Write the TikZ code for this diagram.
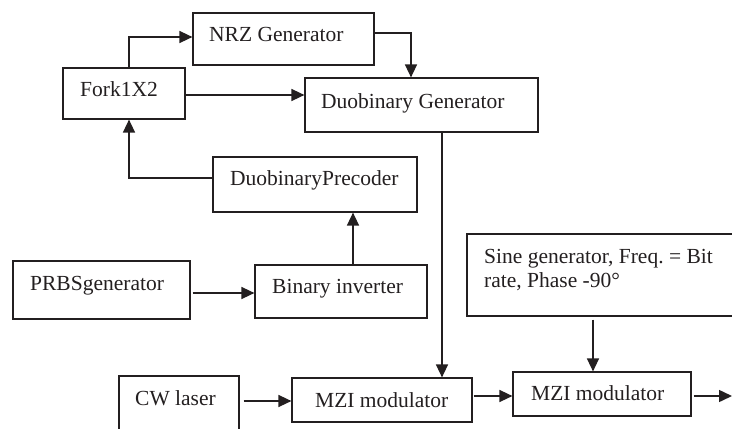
\documentclass[tikz,border=0pt]{standalone}
\usepackage{fontspec}
\setmainfont{Liberation Serif}
\usetikzlibrary{arrows.meta}
\definecolor{ink}{HTML}{231F20}
\frenchspacing
\tikzset{
  box/.style={draw=ink, line width=1.2pt, inner sep=0pt, rectangle},
  lbl/.style={anchor=base west, inner sep=0pt, text=ink, font=\fontsize{21.5}{24}\selectfont},
  arr/.style={draw=ink, line width=1.5pt, -{Triangle[length=13pt,width=12pt]}},
}
\begin{document}
\begin{tikzpicture}[x=1pt,y=-1pt]
\useasboundingbox (0,0) rectangle (732,429);
% boxes
\node[box, minimum width=181pt, minimum height=52pt] (nrz) at (283.5,39) {};
\node[box, minimum width=122pt, minimum height=51pt] (fork) at (124,93.5) {};
\node[box, minimum width=233pt, minimum height=54pt] (duo) at (421.5,105) {};
\node[box, minimum width=204pt, minimum height=55pt] (pre) at (315,184.5) {};
\node[box, minimum width=177pt, minimum height=58pt] (prbs) at (101.5,290) {};
\node[box, minimum width=172pt, minimum height=53pt] (inv) at (341,291.5) {};
\node[box, minimum width=120pt, minimum height=64pt] (cw) at (179,408) {};
\node[box, minimum width=180pt, minimum height=44pt] (mzia) at (382,400) {};
\node[box, minimum width=273pt, minimum height=82pt] (sine) at (603.5,275) {};
\node[box, minimum width=178pt, minimum height=44pt] (mzib) at (602,394) {};
% texts
\node[lbl] (tnrz) at (209,41.5) {NRZ Generator};
\node[lbl] (tfork) at (80,96) {Fork1X2};
\node[lbl] (tduo) at (321,108) {Duobinary Generator};
\node[lbl] (tpre) at (230,185) {DuobinaryPrecoder};
\node[lbl] (tprbs) at (30,290) {PRBSgenerator};
\node[lbl] (tinv) at (272,293) {Binary inverter};
\node[lbl] (tcw) at (135,405) {CW laser};
\node[lbl] (tmzia) at (315,407) {MZI modulator};
\node[lbl] (tsinea) at (484,263) {Sine generator, Freq.\ = Bit};
\node[lbl] (tsineb) at (484,287) {rate, Phase -90°};
\node[lbl] (tmzib) at (531,400) {MZI modulator};
\coordinate (out) at (732,396);
% connectors
\draw[arr] (fork.north -| 129,0) |- (nrz.west |- 0,37);
\draw[arr] (nrz.east |- 0,33) -| (duo.north -| 411,0);
\draw[arr] (fork.east |- 0,95) -- (duo.west |- 0,95);
\draw[arr] (pre.west |- 0,178) -| (fork.south -| 129,0);
\draw[arr] (duo.south -| 442,0) -- (mzia.north -| 442,0);
\draw[arr] ([xshift=2pt]prbs.east |- 0,293) -- (inv.west |- 0,293);
\draw[arr] (inv.north -| 353,0) -- (pre.south -| 353,0);
\draw[arr] ([xshift=4pt]cw.east |- 0,401) -- (mzia.west |- 0,401);
\draw[arr] ([xshift=1pt]mzia.east |- 0,396) -- (mzib.west |- 0,396);
\draw[arr] ([yshift=-3pt]sine.south -| 593,0) -- (mzib.north -| 593,0);
\draw[arr] ([xshift=2pt]mzib.east |- 0,396) -- (out);
\end{tikzpicture}
\end{document}
